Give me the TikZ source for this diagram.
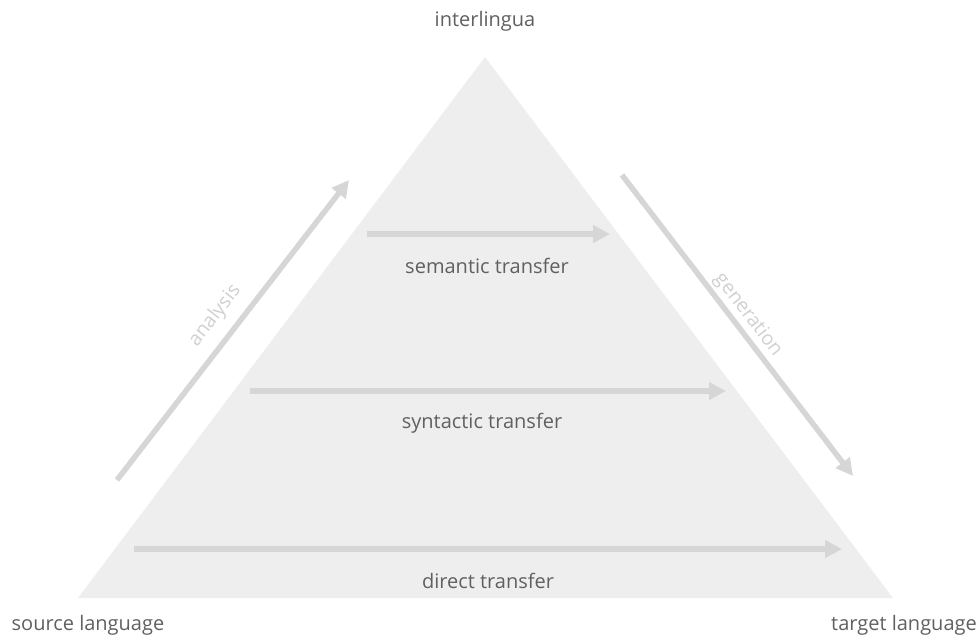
\documentclass[tikz,border=0pt]{standalone}
\usepackage{fontspec}
\setmainfont{Open Sans}
\usetikzlibrary{arrows.meta}
\definecolor{pyrfill}{HTML}{EEEEEE}
\definecolor{flowgray}{HTML}{D6D6D6}
\definecolor{labelgray}{HTML}{606060}
\definecolor{sidegray}{HTML}{D0D0D0}
\tikzset{
  flow/.style={draw=flowgray, line width=5.5pt,
    -{Triangle[length=17pt,width=17pt]}},
  lbl/.style={text=labelgray, font=\fontsize{20}{23}\selectfont, inner sep=0pt},
  sidelbl/.style={text=sidegray, font=\fontsize{19.5}{22}\selectfont, inner sep=0pt}
}
\begin{document}
\begin{tikzpicture}[x=1pt,y=-1pt]
\useasboundingbox (0,0) rectangle (979,643);
% pyramid
\fill[pyrfill] (78,598) -- (485,57) -- (893,598) -- cycle;
% transfer levels
\coordinate (s1) at (367,234); \coordinate (s2) at (610,234);
\coordinate (y1) at (250,391); \coordinate (y2) at (726,391);
\coordinate (d1) at (134,549); \coordinate (d2) at (842,549);
\coordinate (a1) at (117,480); \coordinate (a2) at (349,180);
\coordinate (g1) at (622,175); \coordinate (g2) at (853,476);
\draw[flow] (s1) -- (s2);
\draw[flow] (y1) -- (y2);
\draw[flow] (d1) -- (d2);
\draw[flow] (a1) -- (a2);
\draw[flow] (g1) -- (g2);
% labels
\node[lbl] (sem) at (487,266) {semantic transfer};
\node[lbl] (syn) at (482,423) {syntactic transfer};
\node[lbl] (dir) at (488,581) {direct transfer};
\node[lbl] (il) at (485,21) {interlingua};
\node[lbl] (src) at (88,625) {source language};
\node[lbl] (tgt) at (904,625) {target language};
\node[sidelbl, rotate=52.3] (an) at (215,316) {analysis};
\node[sidelbl, rotate=-52.5] (gen) at (748,315) {generation};
\end{tikzpicture}
\end{document}
